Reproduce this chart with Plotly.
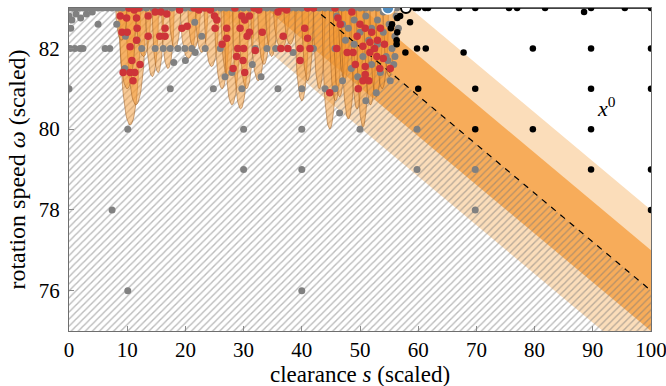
import numpy as np
import plotly.graph_objects as go

# dashed boundary line (endpoints) and band half-widths
boundary_s = [42, 100]
boundary_w = [83, 76]
band_light = 2.0
band_dark = 1.0

# orange probability shapes: centre s, half-width, lowest w
ell_s = [10.5, 11.5, 10.0, 12.8, 14.3, 15.3, 17.0, 18.2, 20.5, 21.5, 22.8, 24.5, 26.3, 27.2,
         28.0, 29.5, 30.5, 32.5, 33.5, 34.8, 36.5, 38.0, 40.0, 41.0, 43.0, 44.8, 45.8, 46.5,
         47.3, 48.0, 49.5, 50.5, 51.8, 52.8, 53.8, 55.0, 9.0]
ell_a = [1.8, 1.7, 1.5, 1.3, 1.1, 1.0, 1.1, 1.0, 1.4, 1.1, 1.1, 1.3, 1.3, 1.1,
         1.4, 1.4, 1.3, 1.3, 1.1, 1.0, 1.4, 1.1, 1.2, 1.0, 1.0, 1.3, 1.1, 1.1,
         1.0, 1.2, 1.1, 1.1, 1.1, 1.1, 1.1, 1.0, 1.0]
ell_bottom = [80.1, 80.6, 81.0, 81.8, 81.3, 81.4, 81.5, 82.0, 81.75, 82.0, 81.9, 81.55, 81.0,
              81.3, 80.6, 80.5, 81.0, 81.2, 81.6, 81.8, 82.0, 82.1, 80.7, 81.2, 81.0, 80.0,
              80.7, 80.8, 81.2, 80.25, 80.5, 80.05, 80.6, 80.8, 81.0, 81.3, 82.2]

gray_s = [0, 0.6, 1.2, 1.8, 2.4, 3, 3.6, 4.2, 5, 5.8, 6.6, 7.4, 8.3, 9.2, 10.2, 11.2, 12.3,
          13.3, 14.4, 15.5, 16.6, 17.7, 18.8, 19.9, 21, 22, 23, 24, 25, 26, 27, 28, 29, 30,
          31, 32, 33, 34, 35, 36, 37, 38, 39, 40, 41, 42, 43, 44, 45, 46, 47, 48, 49, 50,
          51, 52, 53, 54, 55.6, 56.3,
          0, 0.5, 1.2, 2, 3, 4, 0.3,
          0.2, 1, 1.9, 2.4, 6.2, 7, 11.7, 12.5, 14.8, 16.2, 17.4, 18.7, 19.9, 21.1, 23.4, 26,
          32, 34, 35.5, 38.5, 42, 45.7, 9.7, 5, 8.2, 21.6, 22.8,
          0, 9.6, 17.4, 18, 20, 21.7, 24.8, 29.7, 35.9, 40, 45.7, 26.8, 31.5, 33, 28,
          10.1, 30, 40, 50, 59.8,
          30, 40, 59.8, 69.8,
          7.4, 69.8,
          10.1, 40,
          46, 47, 48, 49, 50, 51, 52, 53, 54, 55, 56, 55.5, 54.5, 55.8, 53.5, 52, 50.5, 49,
          47.5, 53, 54, 56.2, 51.5, 48.5, 47, 44, 56, 55.2, 52.8, 49.6, 46.5, 51, 54.8, 56.6]
gray_w = [83] * 60 + \
         [82.8, 82.7, 82.85, 82.75, 82.85, 82.9, 82.5] + \
         [82, 82, 82, 82, 82, 82, 82.2, 82, 82, 82, 82, 82, 82, 82, 82, 82,
          82, 82, 82, 81.9, 82, 82, 82.3, 82.6, 82.6, 82.65, 82.3] + \
         [81, 81.5, 81, 81.65, 81.7, 81.9, 81, 81, 81, 81, 81, 81.3, 81.6, 81.3, 81.4] + \
         [80, 80, 80, 80, 80] + \
         [79, 79, 79, 79] + \
         [78, 78] + \
         [76, 76] + \
         [82.8, 82.6, 82.5, 82.7, 82.4, 82.8, 82.5, 82.7, 82.4, 82.6, 82.3, 82.0, 81.8, 81.6,
          81.4, 81.6, 81.8, 82.1, 82.2, 82.1, 82.9, 82.8, 82.2, 81.5, 81.2, 81, 81.8, 81.2,
          80.9, 81.3, 80.4, 80.7, 81.7, 82.5]

red_s = [8.8, 9.9, 11.6, 9.1, 10, 11.7, 10.5, 10.8, 9.3, 10.5, 11.3, 11, 13.6, 13.6, 15.6,
         16.5, 16.5, 19.4, 20.3, 19, 14.8, 15.8, 16.8, 23.4, 24.3, 25, 25.4, 25.1, 27.1,
         27.1, 28.2, 28.5, 29.7, 31, 30.2, 29.4, 31, 33.2, 29, 30, 28.8, 29.9, 30.2, 32,
         35.9, 36.6, 37.4, 41, 42, 40.5, 41, 39.7, 41.4, 39.7, 45.7, 48.6, 46.2, 46.6, 50,
         50.9, 49.5, 46, 47.8, 48.8, 50.5, 51.7, 53, 51.7, 52.9, 54, 50.9, 53.4, 55.2, 50.9,
         50.5, 49.7, 44.8, 52, 53.5, 52.5, 49.2, 51.5, 54.2, 10.3, 11.2, 12, 21.5, 22.3,
         31.8, 32.6, 26.3, 12.2, 11.6, 36.4, 37.6, 36.8, 30.6]
red_w = [82.8, 82.75, 82.75, 82.4, 82.4, 82.5, 82.04, 81.7, 81.4, 81.4, 81.4, 81.2, 82.8,
         82.3, 82.3, 82.5, 82.3, 82.5, 82.55, 82.95, 82.9, 82.9, 82.85, 83, 82.95, 82.8,
         82.7, 82.5, 82.5, 82.25, 81.5, 83, 82.8, 82.8, 82.7, 82.5, 82.4, 82.4, 82, 82,
         81.8, 81.7, 81.4, 81.95, 82.9, 83, 82.95, 83, 83, 82.5, 82.25, 82, 82, 81.7, 83,
         82.9, 82.75, 82.6, 82.6, 82.5, 82.3, 82, 81.9, 81.9, 82.05, 82.15, 82.2, 81.9,
         81.8, 81.75, 81.55, 81.5, 81.5, 81.35, 81.2, 81, 80.9, 82.4, 82.5, 82.0, 81.6,
         81.2, 82.1, 83, 82.95, 83, 83, 82.95, 83, 82.95, 82.1, 81.6, 82.2, 82.0, 82.0,
         82.3, 82.3]

black_s = [56.4, 56.9, 55.5, 55.3, 58.6, 56.3, 56.3, 56.4, 57.8, 59.8, 61.3, 67.8, 59.5,
           60, 61.2, 61.7, 67, 69.8, 75.6, 77, 81.8, 88.5, 89.7, 95.5, 100, 79.7, 89.7,
           100, 60, 69.8, 89.7, 100, 69.8, 79.7, 89.7, 89.7, 100, 100]
black_w = [82.75, 82.8, 82.6, 82.5, 82.65, 82.2, 82.1, 82.4, 81.9, 82, 82, 81.9, 83,
           83, 83, 83, 83, 83, 83, 83, 83, 82.9, 83, 83, 83, 82, 82,
           82, 81, 81, 81, 81, 80, 80, 80, 79, 79, 78]

start_s, start_w = [54.8], [83]
best_s, best_w = [57.9], [83]

s_range = [0, 100]
w_range = [75, 83]
s_ticks = list(range(0, 101, 10))
w_ticks = [76, 78, 80, 82]

FONT = "Liberation Serif"

fig = go.Figure()

# bands around the dashed boundary
slope = (boundary_w[1] - boundary_w[0]) / (boundary_s[1] - boundary_s[0])
def line_w(s):
    return boundary_w[0] + slope * (s - boundary_s[0])

for off, col in [(band_light, "rgb(251,221,186)"), (band_dark, "rgb(247,172,90)")]:
    xs = [s_range[0], s_range[1], s_range[1], s_range[0]]
    ys = [line_w(s_range[0]) + off, line_w(s_range[1]) + off,
          line_w(s_range[1]) - off, line_w(s_range[0]) - off]
    fig.add_trace(go.Scatter(x=xs, y=ys, fill="toself", fillcolor=col, mode="lines",
                             line=dict(width=0), hoverinfo="skip", showlegend=False))

# hatched feasible region
hx = [s_range[0], s_range[0], boundary_s[0], boundary_s[1], s_range[1]]
hy = [w_range[0], w_range[1], boundary_w[0], boundary_w[1], w_range[0]]
fig.add_trace(go.Scatter(x=hx, y=hy, fill="toself", fillcolor="rgba(0,0,0,0)",
                         fillpattern=dict(shape="/", fgcolor="#777777",
                                          bgcolor="rgba(0,0,0,0)", size=5, solidity=0.28),
                         mode="lines", line=dict(width=0), hoverinfo="skip",
                         showlegend=False))

# orange shapes
t = np.linspace(0, 2 * np.pi, 80)
cy = 83.15
for cx, a, yb in zip(ell_s, ell_a, ell_bottom):
    h = cy - yb
    fig.add_trace(go.Scatter(x=cx + a * np.cos(t), y=cy + h * np.sin(t), fill="toself",
                             fillcolor="rgba(244,152,50,0.5)", mode="lines",
                             line=dict(color="rgba(150,85,25,0.6)", width=0.8),
                             hoverinfo="skip", showlegend=False))

# dashed boundary
fig.add_trace(go.Scatter(x=[boundary_s[0] - 5, boundary_s[1]],
                         y=[line_w(boundary_s[0] - 5), boundary_w[1]], mode="lines",
                         line=dict(color="black", width=1.2, dash="6px,6px"),
                         showlegend=False))

# top border line
fig.add_trace(go.Scatter(x=s_range, y=[w_range[1]] * 2, mode="lines",
                         line=dict(color="black", width=1.5), showlegend=False))

fig.add_trace(go.Scatter(x=gray_s, y=gray_w, mode="markers",
                         marker=dict(color="rgb(128,128,128)", size=7), showlegend=False))
fig.add_trace(go.Scatter(x=red_s, y=red_w, mode="markers",
                         marker=dict(color="rgb(205,52,56)", size=7.5), showlegend=False))
fig.add_trace(go.Scatter(x=black_s, y=black_w, mode="markers",
                         marker=dict(color="black", size=6.5), showlegend=False))
fig.add_trace(go.Scatter(x=start_s, y=start_w, mode="markers",
                         marker=dict(color="rgb(80,140,190)", size=12,
                                     line=dict(color="white", width=1.5)),
                         showlegend=False))
fig.add_trace(go.Scatter(x=best_s, y=best_w, mode="markers",
                         marker=dict(color="white", size=10,
                                     line=dict(color="black", width=2)),
                         showlegend=False))

fig.add_annotation(x=90.3, y=80.15, text="<i>x</i><sup>0</sup>", showarrow=False,
                   xanchor="left", yanchor="bottom",
                   font=dict(family=FONT, size=22, color="black"))

# x-axis title as a paper annotation so it sits just under the tick labels
fig.add_annotation(x=0.5, y=-0.135, xref="paper", yref="paper", yanchor="middle",
                   text="clearance <i>s</i> (scaled)", showarrow=False,
                   font=dict(family=FONT, size=23, color="black"))

axis_common = dict(showgrid=False, zeroline=False, showline=True, linecolor="#6e6e6e",
                   linewidth=1.3, mirror=True, ticks="inside", ticklen=5,
                   tickcolor="#8a8a8a", automargin=False,
                   tickfont=dict(family=FONT, size=21, color="black"))

fig.update_xaxes(range=s_range, tickvals=s_ticks, ticklabeloverflow="allow", **axis_common)
fig.update_yaxes(range=w_range, tickvals=w_ticks, ticklabelstandoff=4, **axis_common,
                 title=dict(text="rotation speed <i>ω</i> (scaled)",
                            font=dict(family=FONT, size=24, color="black"), standoff=6))

fig.update_layout(width=666, height=386, margin=dict(l=69, r=15, t=8, b=55),
                  plot_bgcolor="white", paper_bgcolor="white")

fig.write_html("out.html", config={"displayModeBar": False},
               post_script="document.body.style.margin='0';")
